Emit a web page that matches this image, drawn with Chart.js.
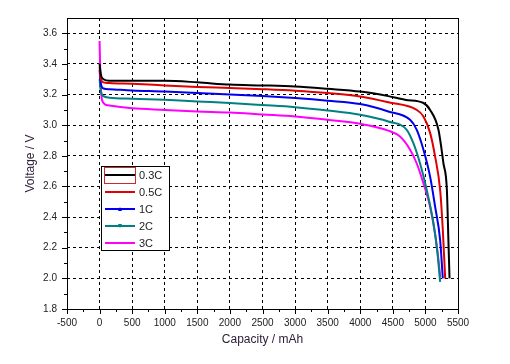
<!DOCTYPE html>
<html>
<head>
<meta charset="utf-8">
<script src="https://cdn.jsdelivr.net/npm/chart.js@4/dist/chart.umd.min.js"></script>
<style>
  html, body { margin: 0; padding: 0; background: #fff; }
  #wrap { width: 510px; height: 364px; }
</style>
</head>
<body>
<div id="wrap"><canvas id="chart" width="510" height="364"></canvas></div>
<script>
// Discharge curves: capacity (mAh) / voltage (V)
const labels = ["0.3C", "0.5C", "1C", "2C", "3C"];
const colors = ["#000000", "#e00000", "#0000ee", "#008080", "#ff00ff"];

const cap03 = [0, 20, 60, 150, 500, 1000, 1500, 2000, 2500, 3000, 3500, 4000, 4430, 4700, 4970, 5072, 5200, 5277, 5329, 5354, 5370];
const volt03 = [3.40, 3.33, 3.30, 3.29, 3.29, 3.29, 3.28, 3.265, 3.26, 3.253, 3.238, 3.22, 3.19, 3.165, 3.145, 3.10, 2.97, 2.75, 2.58, 2.23, 2.0];

const cap05 = [0, 20, 60, 150, 500, 1000, 1500, 2000, 2500, 3000, 3500, 4000, 4430, 4867, 4970, 5072, 5149, 5226, 5267, 5303];
const volt05 = [3.38, 3.30, 3.28, 3.275, 3.27, 3.26, 3.25, 3.243, 3.235, 3.225, 3.21, 3.188, 3.15, 3.10, 3.057, 2.95, 2.795, 2.577, 2.315, 2.0];

const cap1 = [0, 20, 60, 150, 500, 1000, 1500, 2000, 2500, 3000, 3500, 4000, 4430, 4765, 4867, 4970, 5072, 5149, 5226, 5267];
const volt1 = [3.36, 3.27, 3.24, 3.235, 3.227, 3.22, 3.21, 3.20, 3.19, 3.177, 3.16, 3.138, 3.09, 3.035, 2.97, 2.84, 2.664, 2.468, 2.25, 2.0];

const cap2 = [0, 20, 60, 150, 500, 1000, 1500, 2000, 2500, 3000, 3500, 4000, 4430, 4713, 4815, 4918, 5021, 5123, 5185, 5226];
const volt2 = [3.30, 3.22, 3.19, 3.18, 3.173, 3.166, 3.155, 3.145, 3.132, 3.118, 3.096, 3.068, 3.024, 2.97, 2.883, 2.75, 2.577, 2.36, 2.165, 1.977];

const cap3 = [0, 10, 40, 123, 500, 1000, 1500, 2000, 2500, 3000, 3500, 4000, 4430, 4610, 4765, 4867, 4970, 5072, 5149, 5200, 5226];
const volt3 = [3.55, 3.35, 3.16, 3.13, 3.11, 3.10, 3.09, 3.083, 3.07, 3.057, 3.035, 3.009, 2.965, 2.926, 2.84, 2.75, 2.62, 2.468, 2.29, 2.12, 2.01];

const xMin = -500, xMax = 5500, xStep = 500, xMinor = 250;
const yMin = 1.8, yMax = 3.7, yTop = 3.6, yStep = 0.2, yMinor = 0.1;

const series = [[cap03, volt03], [cap05, volt05], [cap1, volt1], [cap2, volt2], [cap3, volt3]];
const toPts = (xs, ys) => xs.map((x, i) => ({x, y: ys[i]}));

const FONT = "'Liberation Sans', Arial, sans-serif";

// Box, outward tick marks (major + minor) and the in-plot legend
const framePlugin = {
  id: "frame",
  afterDraw(chart) {
    const {ctx, chartArea: a, scales: {x, y}} = chart;
    ctx.save();
    ctx.strokeStyle = "#000";
    ctx.lineWidth = 1;
    ctx.strokeRect(Math.round(a.left) + 0.5, Math.round(a.top) + 0.5, Math.round(a.right - a.left), Math.round(a.bottom - a.top));
    ctx.beginPath();
    for (let v = xMin; v <= xMax + 1e-9; v += xMinor) {
      const px = Math.round(x.getPixelForValue(v)) + 0.5;
      const len = Math.abs(v % xStep) < 1e-6 ? 5 : 3;
      ctx.moveTo(px, a.bottom); ctx.lineTo(px, a.bottom + len);
    }
    for (let i = 0; yMin + i * yMinor <= yTop + 1e-9; i++) {
      const v = yMin + i * yMinor;
      const py = Math.round(y.getPixelForValue(v)) + 0.5;
      const len = i % 2 === 0 ? 5 : 3;
      ctx.moveTo(a.left, py); ctx.lineTo(a.left - len, py);
    }
    ctx.stroke();

    // legend
    const lx = 101.5, ly = 166.5, lw = 68, lh = 84;
    ctx.fillStyle = "#fff";
    ctx.fillRect(lx, ly, lw, lh);
    ctx.strokeStyle = "#000";
    ctx.strokeRect(lx, ly, lw, lh);
    ctx.font = "11px " + FONT;
    ctx.textBaseline = "middle";
    chart.data.datasets.forEach((ds, i) => {
      const ry = 175 + i * 17;
      ctx.strokeStyle = ds.borderColor;
      ctx.lineWidth = 2;
      ctx.beginPath(); ctx.moveTo(105, ry); ctx.lineTo(135, ry); ctx.stroke();
      if (i === 2 || i === 3) {
        ctx.fillStyle = ds.borderColor;
        ctx.beginPath();
        if (i === 2) { ctx.moveTo(118, ry + 2); ctx.lineTo(122, ry + 2); ctx.lineTo(120, ry - 2); }
        else { ctx.moveTo(118, ry - 2); ctx.lineTo(122, ry - 2); ctx.lineTo(120, ry + 2); }
        ctx.fill();
      }
      ctx.fillStyle = "#222";
      ctx.fillText(ds.label, 139, ry + 0.5);
    });
    ctx.strokeStyle = "#c03030";
    ctx.lineWidth = 1;
    ctx.strokeRect(104.5, 167.5, 31, 16);
    ctx.restore();
  }
};

new Chart(document.getElementById("chart"), {
  type: "scatter",
  data: {
    datasets: series.map(([xs, ys], i) => ({
      label: labels[i],
      data: toPts(xs, ys),
      showLine: true,
      borderColor: colors[i],
      backgroundColor: colors[i],
      borderWidth: 2,
      pointRadius: 0,
      cubicInterpolationMode: "monotone",
    })),
  },
  options: {
    responsive: false,
    animation: false,
    layout: { padding: { top: 18, right: 52, left: 0, bottom: 0 } },
    plugins: { legend: { display: false }, tooltip: { enabled: false } },
    scales: {
      x: {
        type: "linear", min: xMin, max: xMax,
        ticks: { stepSize: xStep, color: "#222", font: { size: 10, family: FONT }, padding: 8, maxRotation: 0, autoSkip: false, callback: (v) => String(v) },
        grid: { color: (c) => (c.tick.value > xMin && c.tick.value < xMax ? "#000" : "rgba(0,0,0,0)"), drawTicks: false, lineWidth: 1 },
        border: { display: false, dash: [3, 3] },
        title: { display: true, text: "Capacity / mAh", color: "#302038", font: { size: 12, family: FONT }, padding: { top: 0, bottom: 17 } },
        afterFit: (s) => { s.height = 55; },
      },
      y: {
        min: yMin, max: yMax,
        afterBuildTicks: (s) => { s.ticks = s.ticks.filter(t => t.value <= yTop + 1e-9); },
        ticks: { stepSize: yStep, color: "#222", font: { size: 10, family: FONT }, padding: 10, callback: (v) => Number(v).toFixed(1) },
        grid: { color: (c) => (c.tick.value > yMin + 1e-9 ? "#000" : "rgba(0,0,0,0)"), drawTicks: false, lineWidth: 1 },
        border: { display: false, dash: [3, 3] },
        title: { display: true, text: "Voltage / V", color: "#302038", font: { size: 12, family: FONT }, padding: { top: 23, bottom: 0 } },
        afterFit: (s) => { s.width = 67; },
      },
    },
  },
  plugins: [framePlugin],
});
</script>
</body>
</html>
